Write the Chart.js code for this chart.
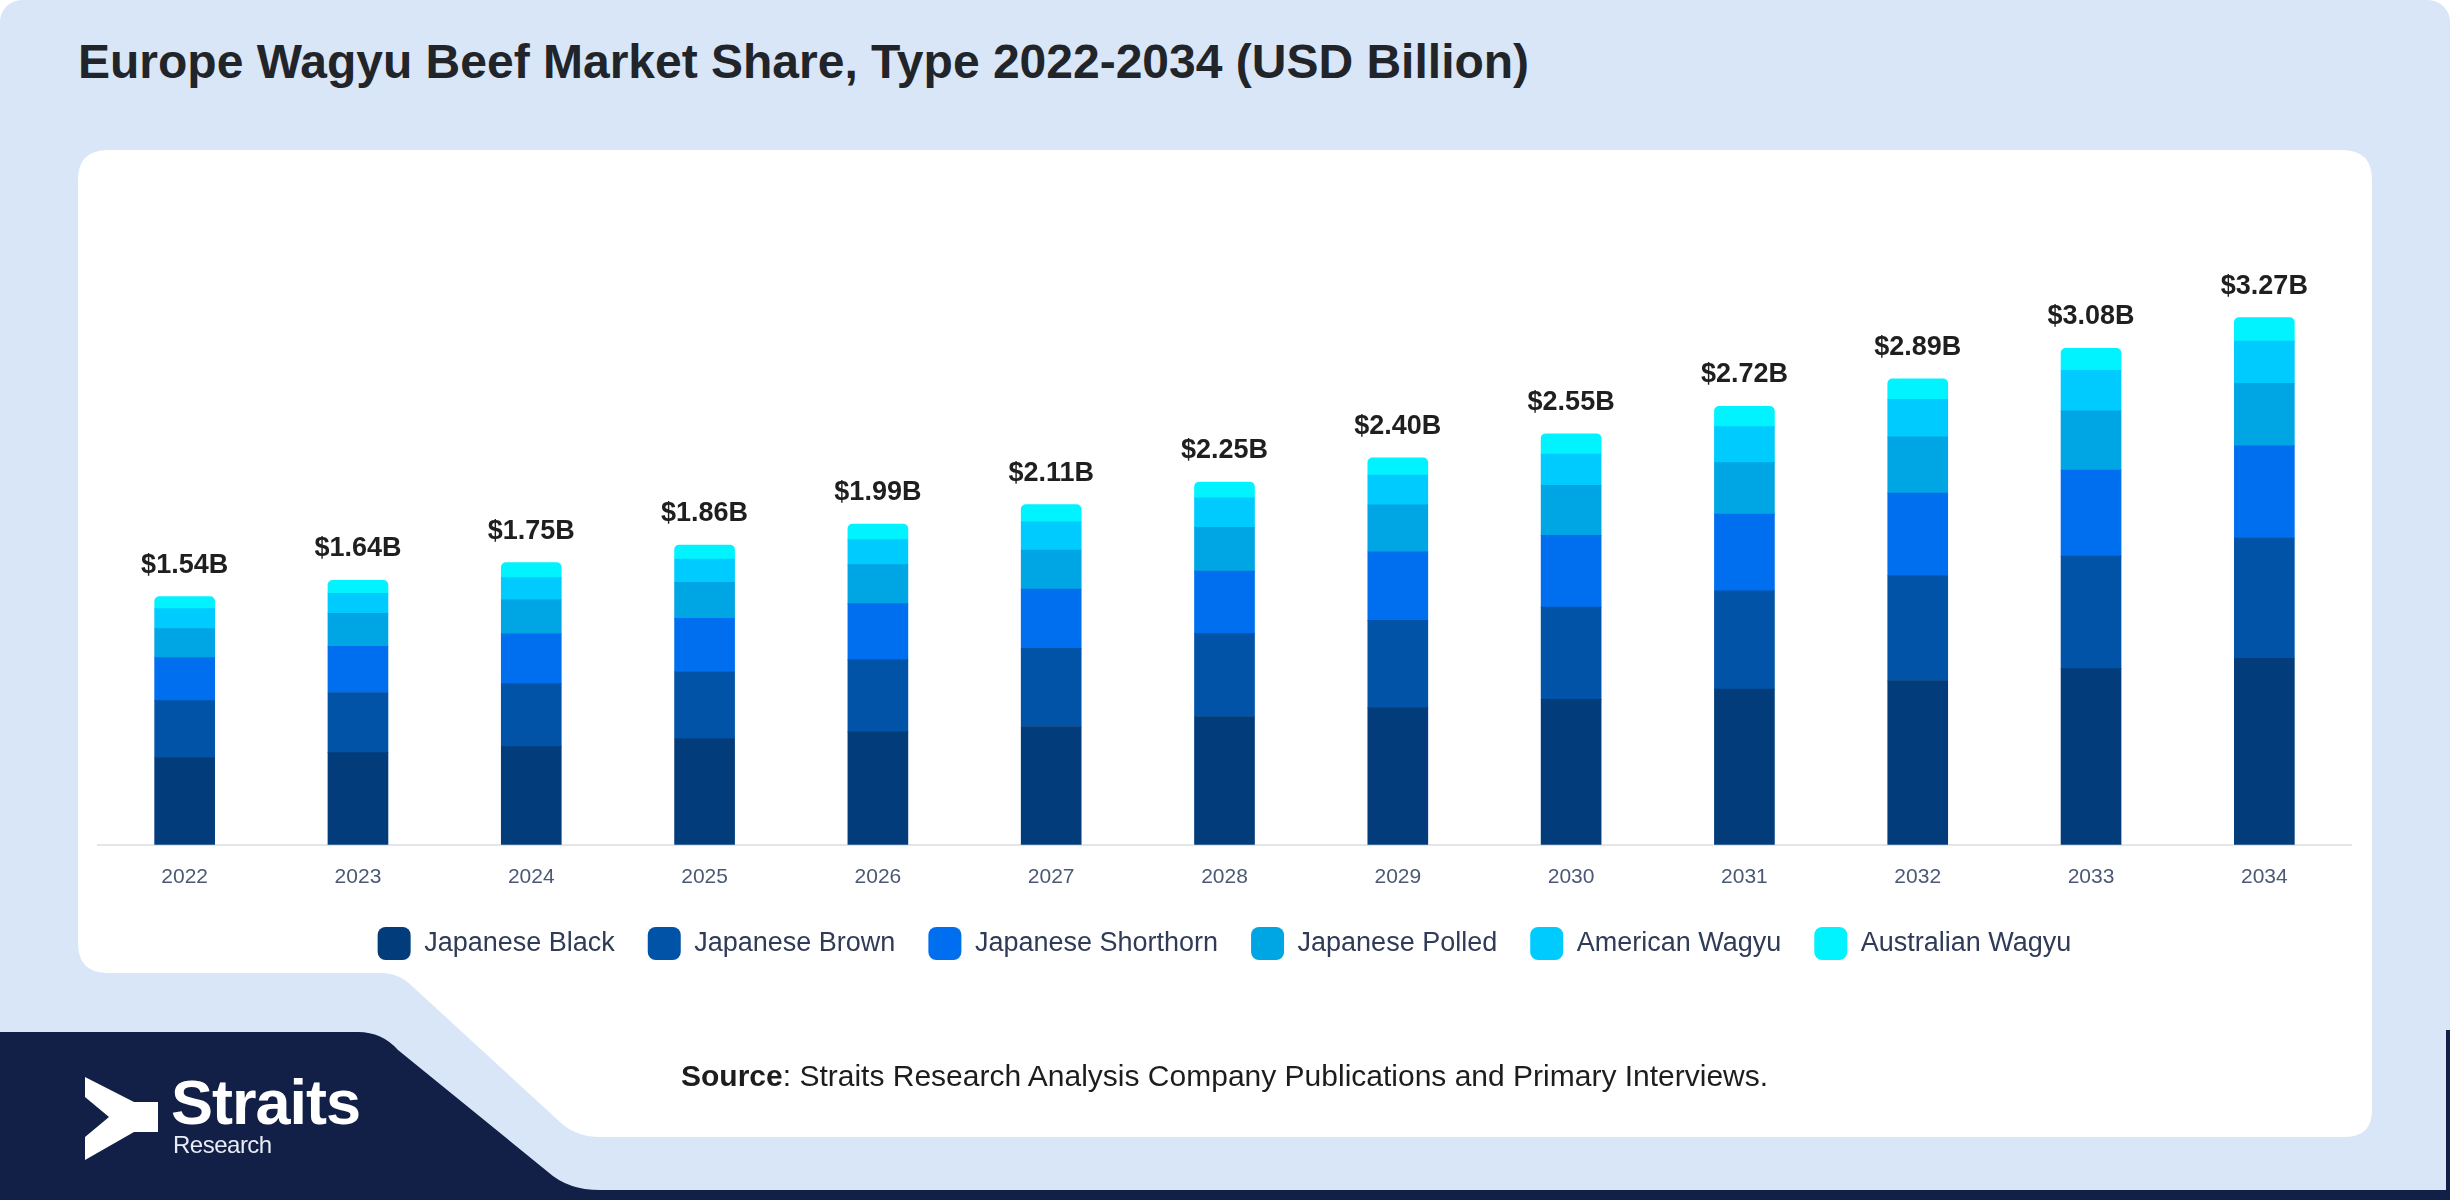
<!DOCTYPE html>
<html>
<head>
<meta charset="utf-8">
<script src="https://cdn.jsdelivr.net/npm/chart.js@4.4.1/dist/chart.umd.min.js"></script>
<style>
  html, body { margin: 0; padding: 0; background: #ffffff; }
  body { width: 2450px; height: 1200px; position: relative; overflow: hidden; font-family: "Liberation Sans", Arial, sans-serif; }
  #bg { position: absolute; left: 0; top: 0; }
  #chart { position: absolute; left: 0; top: 0; }
  .title { position: absolute; left: 78px; top: 38px; font-size: 48px; line-height: 48px; font-weight: bold; color: #212529; white-space: nowrap; }
  .source { position: absolute; left: 681px; top: 1061px; font-size: 30px; line-height: 30px; color: #1d1d1d; white-space: nowrap; }
  .logo1 { position: absolute; left: 171px; top: 1071px; font-size: 63px; line-height: 63px; font-weight: bold; color: #ffffff; letter-spacing: -1px; }
  .logo2 { position: absolute; left: 173px; top: 1133px; font-size: 24px; line-height: 24px; color: #e8ecf5; letter-spacing: -0.5px; }
</style>
</head>
<body>
<svg id="bg" width="2450" height="1200" xmlns="http://www.w3.org/2000/svg">
  <rect x="0" y="0" width="2450" height="1200" rx="22" fill="#d9e6f8"/>
  <path d="M108,150 L2342,150 Q2372,150 2372,180 L2372,1110 Q2372,1137 2345,1137 L600,1137 Q576,1137 560,1122 L412,986 Q399,973 380,973 L108,973 Q78,973 78,943 L78,180 Q78,150 108,150 Z" fill="#ffffff"/>
  <path d="M0,1032 L358,1032 Q382,1032 398,1050 L548,1172 Q568,1190 600,1190 L2450,1190 L2450,1200 L0,1200 Z" fill="#121f46"/>
  <rect x="2446" y="1030" width="4" height="170" fill="#121f46"/>
  <polygon points="85,1077 134,1102 158,1102 158,1132 134,1132 85,1160 85,1137 109,1117 85,1097" fill="#ffffff"/>
</svg>
<div class="title">Europe Wagyu Beef Market Share, Type 2022-2034 (USD Billion)</div>
<canvas id="chart" width="2450" height="1200"></canvas>
<div class="source"><b>Source</b>: Straits Research Analysis Company Publications and Primary Interviews.</div>
<div class="logo1">Straits</div>
<div class="logo2">Research</div>
<script>
const years = ["2022", "2023", "2024", "2025", "2026", "2027", "2028", "2029", "2030", "2031", "2032", "2033", "2034"];
const japaneseBlack = [0.54, 0.572, 0.609, 0.658, 0.701, 0.734, 0.796, 0.849, 0.902, 0.966, 1.019, 1.093, 1.157];
const japaneseBrown = [0.354, 0.373, 0.39, 0.417, 0.446, 0.485, 0.514, 0.543, 0.572, 0.61, 0.649, 0.698, 0.746];
const japaneseShorthorn = [0.267, 0.286, 0.31, 0.33, 0.349, 0.368, 0.388, 0.426, 0.446, 0.475, 0.514, 0.533, 0.572];
const japanesePolled = [0.18, 0.205, 0.211, 0.223, 0.242, 0.242, 0.271, 0.291, 0.31, 0.32, 0.349, 0.368, 0.388];
const americanWagyu = [0.124, 0.124, 0.137, 0.145, 0.155, 0.174, 0.184, 0.184, 0.194, 0.223, 0.233, 0.252, 0.262];
const australianWagyu = [0.075, 0.08, 0.093, 0.087, 0.097, 0.107, 0.097, 0.107, 0.126, 0.126, 0.126, 0.136, 0.145];

const seriesNames = ["Japanese Black", "Japanese Brown", "Japanese Shorthorn", "Japanese Polled", "American Wagyu", "Australian Wagyu"];
const seriesData = [japaneseBlack, japaneseBrown, japaneseShorthorn, japanesePolled, americanWagyu, australianWagyu];
const seriesColors = ["#023c7b", "#0053a6", "#006fef", "#00a5e3", "#00cbff", "#00f3ff"];

const fontFamily = '"Liberation Sans", Arial, sans-serif';

// totals drawn above each stack
const totalLabels = {
  id: "totalLabels",
  afterDatasetsDraw(chart) {
    const ctx = chart.ctx;
    const top = chart.getDatasetMeta(chart.data.datasets.length - 1);
    ctx.save();
    ctx.font = "bold 27px " + fontFamily;
    ctx.fillStyle = "#1f1f1f";
    ctx.textAlign = "center";
    ctx.textBaseline = "alphabetic";
    top.data.forEach((bar, i) => {
      let sum = 0;
      seriesData.forEach(s => sum += s[i]);
      ctx.fillText("$" + sum.toFixed(2) + "B", bar.x, bar.y - 24);
    });
    ctx.restore();
  }
};

// pull the legend row a bit closer to the axis labels
const legendNudge = {
  id: "legendNudge",
  afterLayout(chart) {
    chart.legend.top -= 16;
    chart.legend.bottom -= 16;
  }
};

const ctx = document.getElementById("chart").getContext("2d");
new Chart(ctx, {
  type: "bar",
  data: {
    labels: years,
    datasets: seriesNames.map((name, i) => ({
      label: name,
      data: seriesData[i],
      backgroundColor: seriesColors[i],
      borderWidth: 0,
      borderRadius: 5,
      barThickness: 60
    }))
  },
  options: {
    responsive: false,
    animation: false,
    devicePixelRatio: 1,
    layout: { padding: { left: 98, right: 99, top: 200, bottom: 214 } },
    scales: {
      x: {
        stacked: true,
        grid: { display: false, drawTicks: false },
        border: { display: true, color: "#e3e5e9", width: 2 },
        ticks: { color: "#4b5975", padding: 20, font: { size: 21, family: fontFamily } }
      },
      y: {
        stacked: true,
        display: false,
        min: 0,
        max: 4
      }
    },
    plugins: {
      legend: {
        position: "bottom",
        labels: {
          boxWidth: 33,
          boxHeight: 33,
          useBorderRadius: true,
          borderRadius: 8,
          padding: 33,
          color: "#2f3b57",
          font: { size: 27, family: fontFamily }
        }
      },
      tooltip: { enabled: false }
    }
  },
  plugins: [totalLabels, legendNudge]
});
</script>
</body>
</html>
